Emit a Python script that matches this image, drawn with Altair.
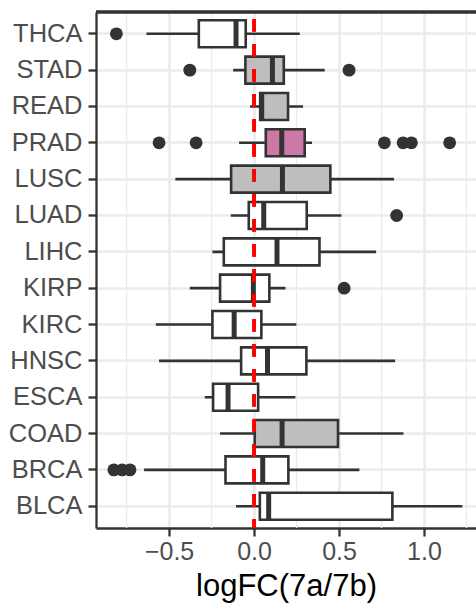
import altair as alt
import pandas as pd

cats = ["THCA", "STAD", "READ", "PRAD", "LUSC", "LUAD", "LIHC",
        "KIRP", "KIRC", "HNSC", "ESCA", "COAD", "BRCA", "BLCA"]
lo = [-0.633, -0.123, -0.023, -0.088, -0.463, -0.137, -0.245,
      -0.378, -0.578, -0.559, -0.290, -0.200, -0.647, -0.106]
q1 = [-0.325, -0.051, 0.036, 0.069, -0.135, -0.031, -0.178,
      -0.200, -0.245, -0.076, -0.241, 0.004, -0.168, 0.034]
med = [-0.106, 0.108, 0.045, 0.163, 0.167, 0.057, 0.135,
       -0.004, -0.117, 0.079, -0.153, 0.165, 0.051, 0.086]
q3 = [-0.049, 0.175, 0.200, 0.298, 0.449, 0.310, 0.385,
      0.090, 0.043, 0.308, 0.024, 0.494, 0.202, 0.814]
hi = [0.269, 0.416, 0.288, 0.341, 0.824, 0.514, 0.718,
      0.185, 0.249, 0.830, 0.243, 0.879, 0.620, 1.226]
group = ["plain", "grey", "grey", "pink", "grey", "plain", "plain",
         "plain", "plain", "plain", "plain", "grey", "plain", "plain"]

out_cat = ["THCA", "STAD", "STAD", "PRAD", "PRAD", "PRAD", "PRAD", "PRAD", "PRAD",
           "LUAD", "KIRP", "BRCA", "BRCA", "BRCA"]
out_val = [-0.810, -0.378, 0.559, -0.559, -0.341, 0.767, 0.877, 0.926, 1.151,
           0.839, 0.530, -0.825, -0.776, -0.730]

minor_vals = [-0.75, -0.25, 0.25, 0.75, 1.25]
x_ticks = [-0.5, 0.0, 0.5, 1.0]

boxes = pd.DataFrame({"cat": cats, "lo": lo, "q1": q1, "med": med,
                      "q3": q3, "hi": hi, "group": group})
outs = pd.DataFrame({"cat": out_cat, "v": out_val})
minor = pd.DataFrame({"v": minor_vals})

DARK = "#333333"
GRID = "#EBEBEB"
FONT = "Liberation Sans"
LW = 2.6

xscale = alt.Scale(domain=[-0.93, 1.306], nice=False, zero=False)
yscale = alt.Scale(type="band", domain=cats, paddingInner=0, paddingOuter=0.1)

xaxis = alt.Axis(values=x_ticks, format=".1f", grid=True, gridColor=GRID, gridWidth=2.6,
                 domain=True, domainColor=DARK, domainWidth=2.3,
                 ticks=True, tickColor=DARK, tickWidth=2.3, tickSize=8,
                 labelFontSize=25, labelColor="#4D4D4D", labelFont=FONT, labelPadding=3,
                 title="logFC(7a/7b)", titleFontSize=31, titleFont=FONT,
                 titleFontWeight="normal", titleColor="#000000", titlePadding=7)
yaxis = alt.Axis(grid=True, gridColor=GRID, gridWidth=2.6, bandPosition=0.5,
                 domain=True, domainColor=DARK, domainWidth=2.3,
                 ticks=True, tickColor=DARK, tickWidth=2.3, tickSize=8,
                 labelFontSize=25.5, labelColor="#4D4D4D", labelFont=FONT, labelPadding=6,
                 title=None)

Y = alt.Y("cat:N", sort=cats, scale=yscale, axis=yaxis)

minor_grid = alt.Chart(minor).mark_rule(color=GRID, strokeWidth=1.3).encode(
    x=alt.X("v:Q", scale=xscale, axis=xaxis))

top_border = alt.Chart(minor).mark_rule(color=DARK, strokeWidth=2.3).encode(
    y=alt.value(0), x=alt.value(0), x2=alt.value(380))

whiskers = alt.Chart(boxes).mark_rule(color=DARK, strokeWidth=LW).encode(
    x=alt.X("lo:Q", scale=xscale, axis=xaxis), x2="hi:Q", y=Y)

box = alt.Chart(boxes).mark_bar(size=27, stroke=DARK, strokeWidth=LW).encode(
    x=alt.X("q1:Q", scale=xscale, axis=xaxis), x2="q3:Q", y=Y,
    fill=alt.Fill("group:N", scale=alt.Scale(domain=["plain", "grey", "pink"],
                                             range=["#FFFFFF", "#BEBEBE", "#CC79A7"]),
                  legend=None))

median = alt.Chart(boxes).mark_tick(size=27, thickness=5, color=DARK, opacity=1).encode(
    x=alt.X("med:Q", scale=xscale, axis=xaxis), y=Y)

outliers = alt.Chart(outs).mark_circle(size=165, color=DARK, opacity=1).encode(
    x=alt.X("v:Q", scale=xscale, axis=xaxis), y=Y)

zero_line = alt.Chart(minor).mark_rule(color="#FF0000", strokeWidth=3,
                                       strokeDash=[12.5, 12.5], strokeDashOffset=18).encode(
    x=alt.datum(0, scale=xscale))

chart = alt.layer(minor_grid, whiskers, box, median, outliers, zero_line, top_border).properties(
    width=380, height=516,
    padding={"left": 96, "top": 12, "right": 0, "bottom": 78},
    autosize="none",
).configure_view(stroke=None).configure(font=FONT, background="white")

chart.save("out.html", embed_options={"renderer": "svg", "actions": False})
